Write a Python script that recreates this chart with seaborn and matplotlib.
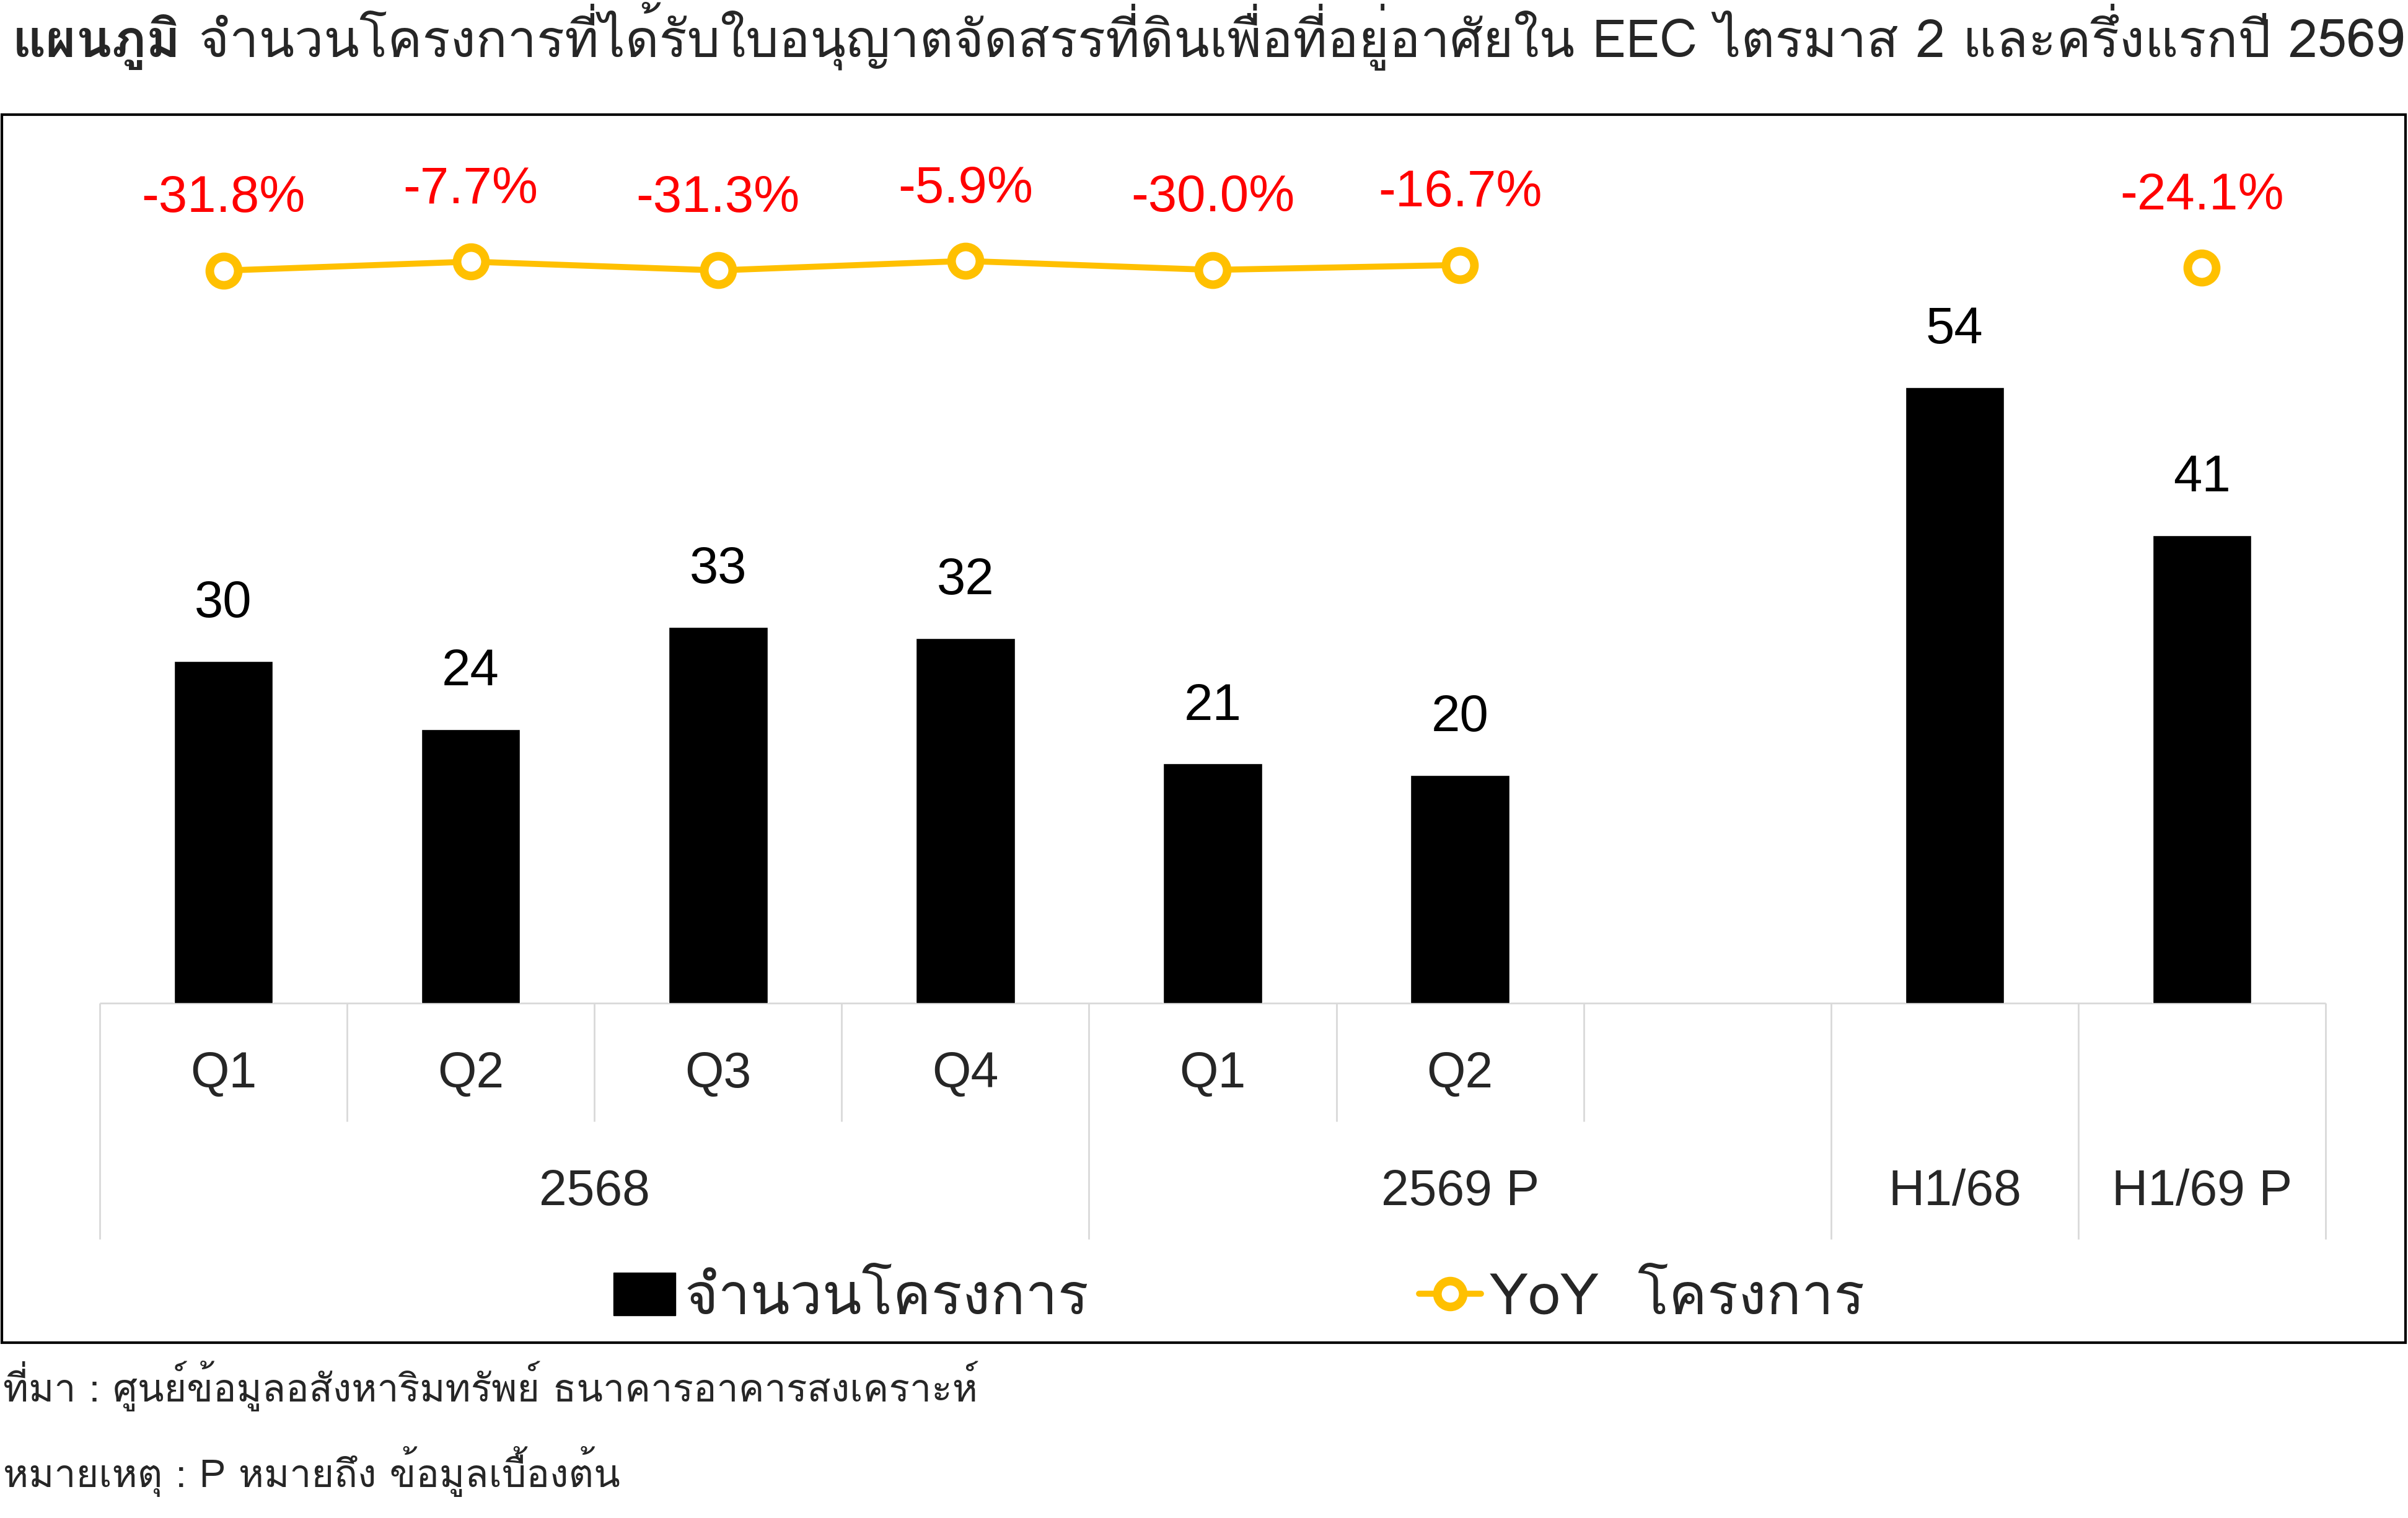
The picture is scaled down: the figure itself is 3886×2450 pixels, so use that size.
import numpy as np
import pandas as pd
import matplotlib
matplotlib.use("Agg")
import matplotlib.pyplot as plt
import matplotlib.font_manager as fm
from matplotlib.ft2font import FT2Font
from matplotlib.patches import Patch, Rectangle
from matplotlib.lines import Line2D
import seaborn as sns

# ---------------- data ----------------
keys = ["2568 Q1", "2568 Q2", "2568 Q3", "2568 Q4", "2569 Q1", "2569 Q2", "gap", "H1/68", "H1/69 P"]
quarter_labels = ["Q1", "Q2", "Q3", "Q4", "Q1", "Q2", "", "", ""]
project_counts = [30, 24, 33, 32, 21, 20, np.nan, 54, 41]
yoy_pct = [-31.8, -7.7, -31.3, -5.9, -30.0, -16.7, np.nan, np.nan, -24.1]
yoy_segment = [1, 1, 1, 1, 1, 1, 0, 0, 2]
group_labels = ["2568", "2569 P", "H1/68", "H1/69 P"]
group_first = [0, 4, 7, 8]
group_last = [3, 6, 7, 8]
title_bold = "แผนภูมิ"
title_rest = "จำนวนโครงการที่ได้รับใบอนุญาตจัดสรรที่ดินเพื่อที่อยู่อาศัยใน EEC ไตรมาส 2 และครึ่งแรกปี 2569"
legend_bar = "จำนวนโครงการ"
legend_line = "YoY  โครงการ"
source_note = "ที่มา : ศูนย์ข้อมูลอสังหาริมทรัพย์ ธนาคารอาคารสงเคราะห์"
remark_note = "หมายเหตุ : P หมายถึง ข้อมูลเบื้องต้น"

GOLD = "#FFC000"
RED = "#FF0000"
GRID = "#D9D9D9"

# ---------------- fonts ----------------
sns.set_style("white")


def has_thai(path):
    try:
        cm = FT2Font(path).get_charmap()
        return all(c in cm for c in (0x0E08, 0x0E33, 0x0E34, 0x0E49))
    except Exception:
        return False


pref = ["Umpush", "Loma", "Garuda", "Waree", "Kinnari", "Laksaman", "Sarabun",
        "TH Sarabun New", "Noto Sans Thai", "Noto Sans Thai Looped", "Norasi", "Sawasdee"]
thai_names = []
seen = set()
for f in fm.fontManager.ttflist:
    if f.fname in seen:
        continue
    seen.add(f.fname)
    if has_thai(f.fname) and f.name not in thai_names:
        thai_names.append(f.name)


def score(n):
    for i, p in enumerate(pref):
        if n.lower() == p.lower():
            return i
    for i, p in enumerate(pref):
        if p.lower() in n.lower():
            return len(pref) + i
    return 100


thai_names.sort(key=score)
THAI = thai_names[:1]
thai_fam = THAI + ["Liberation Sans", "DejaVu Sans"]
latin_fam = ["Liberation Sans", "DejaVu Sans"]
plt.rcParams["font.family"] = thai_fam

W, H = 3887, 2450
fig = plt.figure(figsize=(W / 100, H / 100), dpi=100)
fig.patch.set_facecolor("white")
renderer = fig.canvas.get_renderer()


def fx(px):
    return px / W


def fy(py):
    return 1 - py / H


def text_width(s, size, **kw):
    t = fig.text(0, 0, s, fontsize=size, **kw)
    w = t.get_window_extent(renderer=renderer).width
    t.remove()
    return w


# ---------------- axes ----------------
ax_left, ax_right, ax_base, ax_top = 161, 3753, 1619, 198
ax = fig.add_axes([fx(ax_left), fy(ax_base), (ax_right - ax_left) / W, (ax_base - ax_top) / H])
ax.set_facecolor("none")

df_bar = pd.DataFrame({"key": keys, "count": project_counts}).dropna()
sns.barplot(data=df_bar, x="key", y="count", order=keys, color="black",
            saturation=1, width=0.4, errorbar=None, ax=ax)
ax.set_xlim(-0.5, len(keys) - 0.5)
ax.set_ylim(0, 77.2)
ax.axis("off")

for i, v in enumerate(project_counts):
    if not np.isnan(v):
        ax.annotate(f"{v:.0f}", (i, v), xytext=(0, 51), textcoords="offset points",
                    ha="center", va="baseline", fontsize=60, family=latin_fam, color="black")

# YoY line on secondary axis
ax2 = ax.twinx()
df_line = pd.DataFrame({"x": np.arange(len(keys)), "yoy": yoy_pct, "seg": yoy_segment}).dropna()
sns.lineplot(data=df_line, x="x", y="yoy", units="seg", estimator=None, color=GOLD,
             lw=7, marker="o", markersize=33, markeredgewidth=10, markerfacecolor="white",
             markeredgecolor=GOLD, legend=False, ax=ax2)
ax2.set_xlim(-0.5, len(keys) - 0.5)
ax2.set_ylim(-2002, 366)
ax2.axis("off")
for i, v in enumerate(yoy_pct):
    if not np.isnan(v):
        ax2.annotate(f"{v:.1f}%", (i, v), xytext=(0, 68), textcoords="offset points",
                     ha="center", va="baseline", fontsize=60, family=latin_fam, color=RED)

# ---------------- category table ----------------
tr = ax.get_xaxis_transform()
ph = ax_base - ax_top


def ay(py):
    return (ax_base - py) / ph


q_bottom, g_bottom = ay(1810), ay(2000)
ax.hlines(0, -0.5, len(keys) - 0.5, colors=GRID, lw=2, clip_on=False, zorder=0)
long_bounds = set([g - 0.5 for g in group_first] + [len(keys) - 0.5])
for k in range(len(keys) + 1):
    xb = k - 0.5
    ax.vlines(xb, g_bottom if xb in long_bounds else q_bottom, 0, colors=GRID, lw=2,
              transform=tr, clip_on=False)
for i, lab in enumerate(quarter_labels):
    if lab:
        ax.text(i, ay(1755), lab, transform=tr, ha="center", va="baseline",
                fontsize=58, family=latin_fam)
for lab, a, b in zip(group_labels, group_first, group_last):
    ax.text((a + b) / 2, ay(1945), lab, transform=tr, ha="center", va="baseline",
            fontsize=58, family=latin_fam)

# ---------------- frame ----------------
fig.add_artist(Rectangle((fx(3), fy(2167)), (3882 - 3) / W, (2167 - 185) / H,
                         transform=fig.transFigure, fill=False, lw=3, ec="black"))

# ---------------- title ----------------
base = 50
wb = text_width(title_bold, base, family=thai_fam, weight="bold")
wr = text_width(title_rest, base, family=thai_fam)
gap = 29
tsize = base * (3863 - gap) / (wb + wr)
fig.text(fx(20), fy(92), title_bold, fontsize=tsize, weight="bold", family=thai_fam,
         ha="left", va="baseline")
fig.text(fx(20 + wb * tsize / base + gap), fy(92), title_rest, fontsize=tsize,
         family=thai_fam, ha="left", va="baseline")

# ---------------- legend ----------------
lsize = base * 653 / text_width(legend_bar, base, family=thai_fam)
em = lsize * 100 / 72
handles = [Patch(facecolor="black", edgecolor="black"),
           Line2D([0], [0], color=GOLD, lw=7, marker="o", markersize=30, markeredgewidth=10,
                  markerfacecolor="white", markeredgecolor=GOLD)]
fig.legend(handles, [legend_bar, legend_line], loc="center", bbox_to_anchor=(fx(2000), fy(2097)),
           ncol=2, frameon=False, prop={"family": thai_fam, "size": lsize},
           handlelength=100 / em, handleheight=70 / em, handletextpad=14 / em,
           columnspacing=533 / em, borderpad=0)

# ---------------- notes ----------------
nsize = base * 1573 / text_width(source_note, base, family=thai_fam)
fig.text(fx(5), fy(2262), source_note, fontsize=nsize, family=thai_fam, ha="left", va="baseline")
fig.text(fx(5), fy(2400), remark_note, fontsize=nsize, family=thai_fam, ha="left", va="baseline")

fig.savefig("out.png", dpi=100, facecolor="white")
